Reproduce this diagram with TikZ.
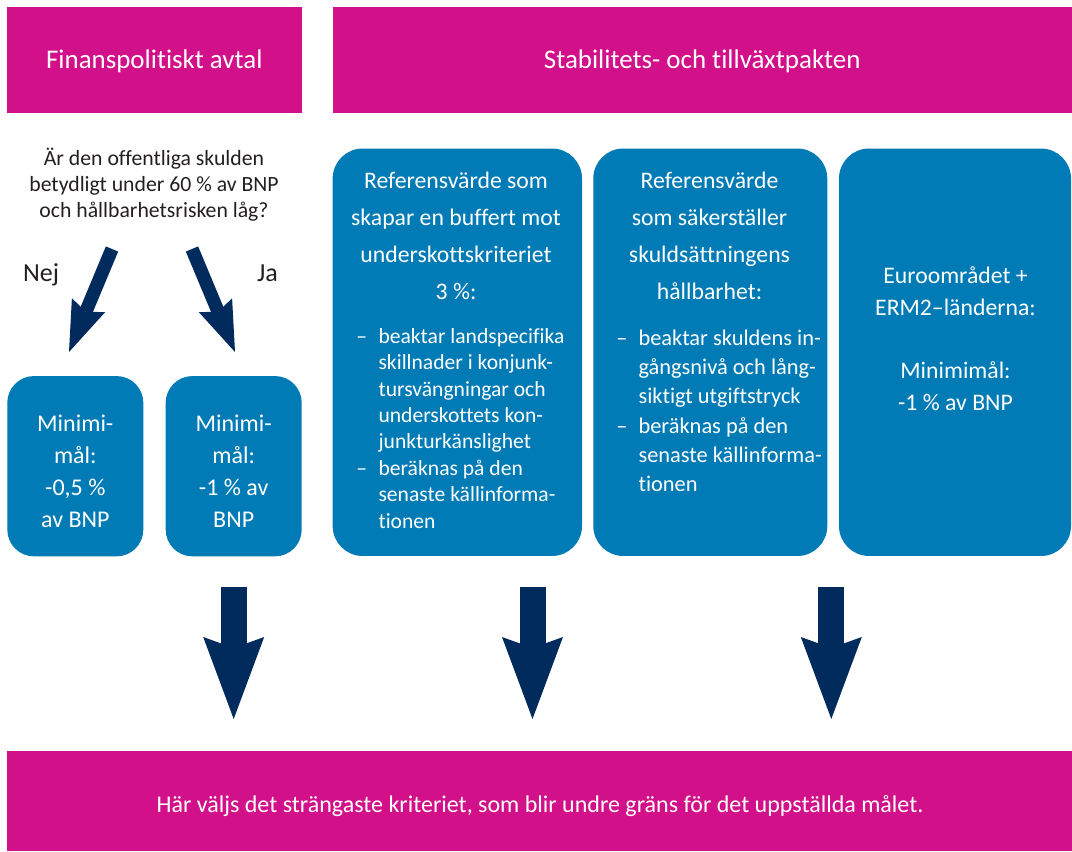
\documentclass[tikz,border=0pt]{standalone}
\usepackage{fontspec}
\setmainfont{Carlito}[Ligatures=NoCommon]
\usetikzlibrary{arrows.meta}

\definecolor{magentaA}{RGB}{210,16,138}
\definecolor{blueA}{RGB}{0,123,182}
\definecolor{navyA}{RGB}{0,43,92}
\definecolor{darkText}{RGB}{35,31,32}

\begin{document}
\begin{tikzpicture}[x=0.75pt,y=0.75pt,yscale=-1,xscale=1,
    bar/.style={fill=magentaA, inner sep=0pt, outer sep=0pt},
    card/.style={fill=blueA, inner sep=0pt, outer sep=0pt},
    hdrtext/.style={text=white, inner sep=0pt, anchor=base, font=\fontsize{20.2}{24}\selectfont},
    cardtext/.style={text=white, inner sep=0pt, anchor=north},
    bigarrow/.style={draw=navyA, line width=19.5pt, -{Stealth[length=61.5pt, width=45.75pt, inset=8.25pt, line width=0pt]}},
    diagarrow/.style={draw=navyA, line width=10pt, -{Stealth[length=38pt, width=27pt, inset=5.25pt, line width=0pt]}}]

    \useasboundingbox (0,0) rectangle (1072,852);

    %Shape: Rectangle [headers]
    \draw (154.35,59.85) node [bar, minimum width=221pt, minimum height=79.3pt] (fpaHeader) {};
    \draw (702.25,59.85) node [bar, minimum width=554.6pt, minimum height=79.3pt] (sgpHeader) {};
    %Shape: Rectangle [result bar]
    \draw (539.5,800.85) node [bar, minimum width=798.75pt, minimum height=75.2pt] (resultBar) {};

    %Shape: Rounded Rect [small cards]
    \draw (75.3,466.2) node [card, rounded corners=20pt, minimum width=102pt, minimum height=135.2pt] (nejBox) {};
    \draw (233.7,466.2) node [card, rounded corners=20pt, minimum width=102pt, minimum height=135.2pt] (jaBox) {};
    %Shape: Rounded Rect [large cards]
    \draw (457.35,352.25) node [card, rounded corners=22.5pt, minimum width=187pt, minimum height=305.6pt] (bufferBox) {};
    \draw (710.3,352.25) node [card, rounded corners=22.5pt, minimum width=175.5pt, minimum height=305.6pt] (debtBox) {};
    \draw (955,352.25) node [card, rounded corners=22.5pt, minimum width=174pt, minimum height=305.6pt] (euroBox) {};

    % Text Node
    \draw (154.35,69) node [hdrtext] (fpaTitle) {Finanspolitiskt avtal};
    % Text Node
    \draw (702.25,69) node [hdrtext] (sgpTitle) {Stabilitets- och tillväxtpakten};
    % Text Node
    \draw (154,146.9) node [anchor=north, inner sep=0pt, text=darkText, font=\fontsize{16.3}{19.4}\selectfont] (question) {\begin{tabular}{@{}c@{}}
    Är den offentliga skulden\\
    betydligt under 60 \% av BNP\\
    och hållbarhetsrisken låg?
    \end{tabular}};
    % Text Node
    \draw (41,281.7) node [anchor=base, inner sep=0pt, text=darkText, font=\fontsize{19.5}{23}\selectfont] (nejLabel) {Nej};
    % Text Node
    \draw (267.5,281.7) node [anchor=base, inner sep=0pt, text=darkText, font=\fontsize{19.5}{23}\selectfont] (jaLabel) {Ja};

    % Text Node
    \draw (75.3,409.4) node [cardtext, font=\fontsize{18}{23.85}\selectfont] (nejText) {\begin{tabular}{@{}c@{}}
    Minimi-\\ mål:\\ -0,5 \%\\ av BNP
    \end{tabular}};
    % Text Node
    \draw (233.7,409.4) node [cardtext, font=\fontsize{18}{23.85}\selectfont] (jaText) {\begin{tabular}{@{}c@{}}
    Minimi-\\ mål:\\ -1 \% av\\ BNP
    \end{tabular}};

    % Text Node
    \draw (456,162.5) node [cardtext, font=\fontsize{17.8}{27.7}\selectfont] (bufferTitle) {\begin{tabular}{@{}c@{}}
    Referensvärde som\\ skapar en buffert mot\\ underskottskriteriet\\ 3 \%:
    \end{tabular}};
    % Text Node
    \draw (356,324.5) node [cardtext, anchor=north west, font=\fontsize{16.2}{19.8}\selectfont] (bufferList) {\begin{tabular}{@{}p{16.7pt}@{}l@{}}
    – & beaktar landspecifika\\
      & skillnader i konjunk-\\
      & tursvängningar och\\
      & underskottets kon-\\
      & junkturkänslighet\\
    – & beräknas på den\\
      & senaste källinforma-\\
      & tionen
    \end{tabular}};

    % Text Node
    \draw (709.5,162.5) node [cardtext, font=\fontsize{17.8}{27.7}\selectfont] (debtTitle) {\begin{tabular}{@{}c@{}}
    Referensvärde\\ som säkerställer\\ skuldsättningens\\ hållbarhet:
    \end{tabular}};
    % Text Node
    \draw (616,324.5) node [cardtext, anchor=north west, font=\fontsize{16.8}{22}\selectfont] (debtList) {\begin{tabular}{@{}p{16.7pt}@{}l@{}}
    – & beaktar skuldens in-\\
      & gångsnivå och lång-\\
      & siktigt utgiftstryck\\
    – & beräknas på den\\
      & senaste källinforma-\\
      & tionen
    \end{tabular}};

    % Text Node
    \draw (955.5,261) node [cardtext, font=\fontsize{17.8}{23.85}\selectfont] (euroText) {\begin{tabular}{@{}c@{}}
    Euroområdet +\\ ERM2–länderna:\\ \\ Minimimål:\\ -1 \% av BNP
    \end{tabular}};

    % Text Node
    \draw (540,812) node [hdrtext, font=\fontsize{18}{21.5}\selectfont] (resultText) {Här väljs det strängaste kriteriet, som blir undre gräns för det uppställda målet.};

    % arrow ends
    \coordinate (nejFrom) at (112,249);
    \coordinate (nejTo) at (69,352);
    \coordinate (jaFrom) at (192,249);
    \coordinate (jaTo) at (235,352);
    \coordinate (fpaFrom) at (233.7,586.7);
    \coordinate (fpaTo) at (233.7,719);
    \coordinate (bufferFrom) at (532.5,586.7);
    \coordinate (bufferTo) at (532.5,719);
    \coordinate (euroFrom) at (831.3,586.7);
    \coordinate (euroTo) at (831.3,719);

    %Arrows
    \draw [diagarrow] (nejFrom) -- (nejTo);
    \draw [diagarrow] (jaFrom) -- (jaTo);
    \draw [bigarrow] (fpaFrom) -- (fpaTo);
    \draw [bigarrow] (bufferFrom) -- (bufferTo);
    \draw [bigarrow] (euroFrom) -- (euroTo);
\end{tikzpicture}
\end{document}
